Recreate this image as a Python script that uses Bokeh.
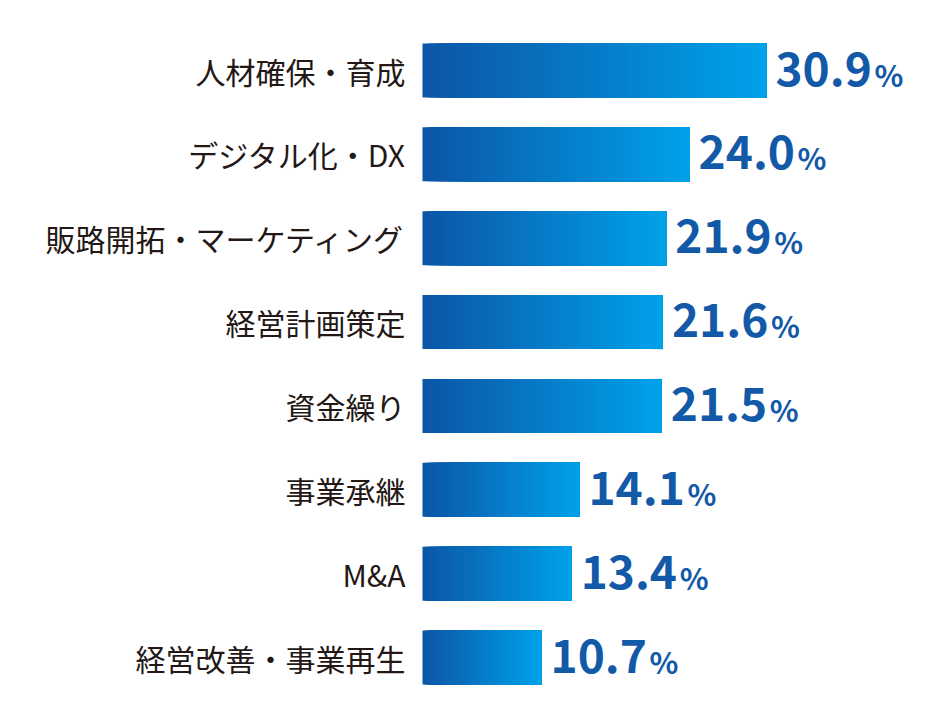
from bokeh.plotting import figure
from bokeh.models import Range1d, ColumnDataSource
from bokeh.core.properties import value
from bokeh.embed import file_html
from bokeh.resources import INLINE

# data
labels = ["人材確保・育成", "デジタル化・DX", "販路開拓・マーケティング", "経営計画策定",
          "資金繰り", "事業承継", "M&A", "経営改善・事業再生"]
values = [30.9, 24.0, 21.9, 21.6, 21.5, 14.1, 13.4, 10.7]

# gradient ends of each bar
c_left = (12, 86, 167)
c_right = (0, 161, 233)
n_steps = 60

W, H = 928, 709
px_per_unit = 11.13
row_px = 83.86
x0_px = 422
y0_px = 70

p = figure(width=W, height=H, output_backend="svg", toolbar_location=None,
           x_range=Range1d(-x0_px / px_per_unit, (W - x0_px) / px_per_unit),
           y_range=Range1d((H - y0_px) / row_px, -y0_px / row_px),
           min_border=0)
p.axis.visible = False
p.grid.visible = False
p.outline_line_color = None
p.background_fill_color = "white"

rows = list(range(len(labels)))

# bars: stacked slices from left to end, lighter ones drawn on top
for k in range(n_steps):
    t = k / (n_steps - 1)
    col = "#%02x%02x%02x" % tuple(int(round(a + (b - a) * t)) for a, b in zip(c_left, c_right))
    lefts = [v * k / n_steps for v in values]
    p.hbar(y=rows, left=lefts, right=values, height=0.644,
           fill_color=col, line_color=None)

src = ColumnDataSource(dict(y=rows, x=values, lab=labels,
                            num=["%.1f" % v for v in values],
                            zero=[0] * len(values),
                            pct=["%"] * len(values)))

p.text(x="zero", y="y", text="lab", source=src, x_offset=-17, y_offset=0,
       text_align="right", text_baseline="middle",
       text_font=value("Noto Sans CJK JP"), text_font_size="30px",
       text_color="#231815")

p.text(x="x", y="y", text="num", source=src, x_offset=9, y_offset=-2,
       text_align="left", text_baseline="middle",
       text_font=value("Noto Sans CJK JP"), text_font_style="bold",
       text_font_size="46px", text_color="#1259a8")

p.text(x="x", y="y", text="pct", source=src, x_offset=108, y_offset=3,
       text_align="left", text_baseline="middle",
       text_font=value("Noto Sans CJK JP"), text_font_style="bold",
       text_font_size="30px", text_color="#1259a8")

open("out.html", "w").write(file_html(p, INLINE))
